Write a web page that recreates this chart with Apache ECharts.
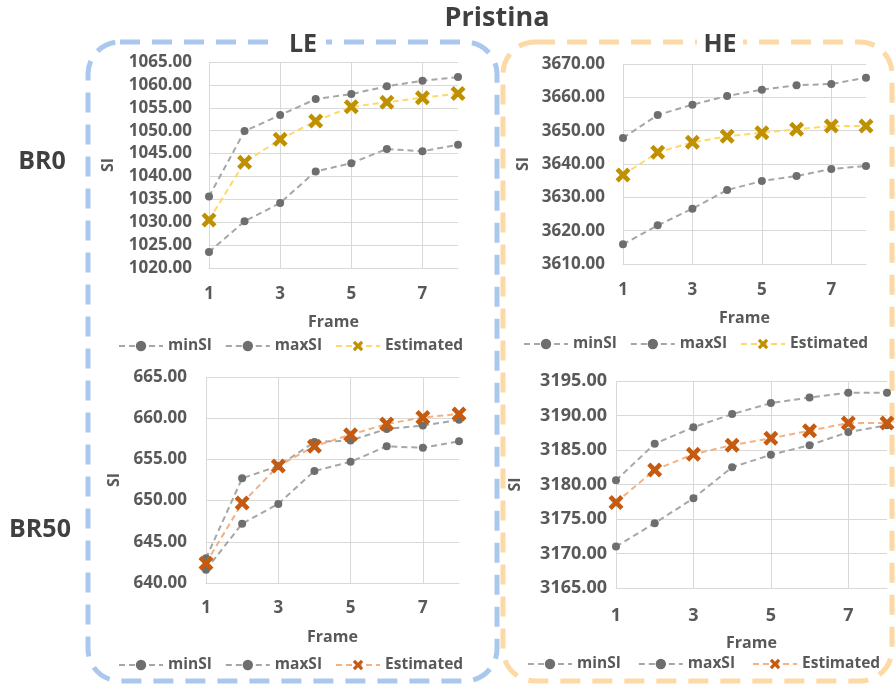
<!DOCTYPE html>
<html>
<head>
<meta charset="utf-8">
<script src="https://cdn.jsdelivr.net/npm/echarts@6/dist/echarts.min.js"></script>
<style>
html,body{margin:0;padding:0;background:#fff;}
#c{width:896px;height:685px;}
</style>
</head>
<body>
<div id="c"></div>
<script>
// ---- data ----
var frames = ['1','2','3','4','5','6','7','8'];

var LE_BR0_min = [1023.5, 1030.2, 1034.2, 1041.1, 1042.9, 1046.0, 1045.5, 1046.9];
var LE_BR0_max = [1035.6, 1049.9, 1053.4, 1056.9, 1058.0, 1059.7, 1060.9, 1061.7];
var LE_BR0_est = [1030.5, 1043.1, 1048.1, 1052.1, 1055.2, 1056.2, 1057.2, 1058.1];

var HE_BR0_min = [3615.9, 3621.6, 3626.6, 3632.2, 3634.9, 3636.4, 3638.5, 3639.4];
var HE_BR0_max = [3647.8, 3654.7, 3657.8, 3660.4, 3662.3, 3663.6, 3664.0, 3665.9];
var HE_BR0_est = [3636.7, 3643.5, 3646.5, 3648.3, 3649.4, 3650.4, 3651.4, 3651.4];

var LE_BR50_min = [641.6, 647.2, 649.6, 653.6, 654.7, 656.6, 656.4, 657.2];
var LE_BR50_max = [643.0, 652.7, 654.2, 657.1, 657.3, 658.7, 659.1, 659.8];
var LE_BR50_est = [642.4, 649.7, 654.2, 656.6, 658.0, 659.3, 660.1, 660.5];

var HE_BR50_min = [3171.0, 3174.4, 3178.0, 3182.5, 3184.3, 3185.7, 3187.6, 3188.6];
var HE_BR50_max = [3180.6, 3185.9, 3188.3, 3190.2, 3191.8, 3192.6, 3193.3, 3193.3];
var HE_BR50_est = [3177.4, 3182.1, 3184.4, 3185.7, 3186.7, 3187.8, 3188.9, 3188.9];

var seriesNames = ['minSI', 'maxSI', 'Estimated'];
var mainTitle = 'Pristina';
var colTitles = ['LE', 'HE'];
var rowTitles = ['BR0', 'BR50'];
var xName = 'Frame';
var yName = 'SI';

// ---- styling ----
var FONT = "'Open Sans', 'Noto Sans', sans-serif";
var LBL = '#595959';
var GRID = '#d9d9d9';
var GRAY_LINE = '#a6a6a6';
var GRAY_DOT = '#6e6e6e';
var X_SYMBOL = 'path://M0,2.6 L2.6,0 L6,3.4 L9.4,0 L12,2.6 L8.6,6 L12,9.4 L9.4,12 L6,8.6 L2.6,12 L0,9.4 L3.4,6 Z';

var panels = [
  {grid:{left:209, top:62, width:249, height:206}, y:[1020,1065,5], fs:17, ym:17, xm:18, ng:93, xg:46,
   data:[LE_BR0_min, LE_BR0_max, LE_BR0_est], estLine:'#ffd966', estMark:'#bf9000', estName:'Estimated',
   legend:{left:118, top:338}, gap:13},
  {grid:{left:623, top:64, width:243, height:200}, y:[3610,3670,10], fs:17, ym:18, xm:18, ng:92, xg:46,
   data:[HE_BR0_min, HE_BR0_max, HE_BR0_est], estLine:'#ffd966', estMark:'#bf9000', estName:'Estimated',
   legend:{left:523, top:336}, gap:13},
  {grid:{left:206, top:377, width:253, height:206}, y:[640,665,5], fs:17, ym:19, xm:17, ng:84, xg:46,
   data:[LE_BR50_min, LE_BR50_max, LE_BR50_est], estLine:'#f4b183', estMark:'#c55a11', estName:'Estimated|BR50',
   legend:{left:118, top:657}, gap:13},
  {grid:{left:616, top:381, width:271, height:207}, y:[3165,3195,5], fs:18, ym:9, xm:19, ng:93, xg:47,
   data:[HE_BR50_min, HE_BR50_max, HE_BR50_est], estLine:'#f4b183', estMark:'#c55a11', estName:'Estimated|BR50',
   legend:{left:527, top:656}, gap:17}
];

var option = {
  animation: false,
  backgroundColor: '#fff',
  textStyle: {fontFamily: FONT},
  grid: [], xAxis: [], yAxis: [], series: [], legend: [], graphic: []
};

panels.forEach(function(p, i){
  option.grid.push(Object.assign({containLabel:false}, p.grid));
  option.xAxis.push({
    type:'category', gridIndex:i, data:frames, boundaryGap:false,
    name:xName, nameLocation:'middle', nameGap:p.xg,
    nameTextStyle:{color:LBL, fontSize:16, fontWeight:700, fontFamily:FONT},
    axisLine:{show:true, lineStyle:{color:GRID, width:1}},
    axisTick:{show:false},
    axisLabel:{interval:1, color:LBL, fontSize:p.fs, fontWeight:700, fontFamily:FONT, margin:p.xm},
    splitLine:{show:true, interval:1, lineStyle:{color:GRID, width:1}}
  });
  option.yAxis.push({
    type:'value', gridIndex:i, min:p.y[0], max:p.y[1], interval:p.y[2],
    name:yName, nameLocation:'middle', nameGap:p.ng,
    nameTextStyle:{color:LBL, fontSize:16, fontWeight:700, fontFamily:FONT},
    axisLine:{show:false}, axisTick:{show:false},
    axisLabel:{color:LBL, fontSize:p.fs, fontWeight:700, fontFamily:FONT, margin:p.ym,
      formatter:function(v){return v.toFixed(2);}},
    splitLine:{show:true, lineStyle:{color:GRID, width:1}}
  });
  for (var k = 0; k < 2; k++) {
    option.series.push({
      type:'line', name:seriesNames[k], xAxisIndex:i, yAxisIndex:i, data:p.data[k],
      symbol:'circle', symbolSize:8, z:2,
      itemStyle:{color:GRAY_DOT},
      lineStyle:{color:GRAY_LINE, width:2, type:[6,4]}
    });
  }
  option.series.push({
    type:'line', name:p.estName, xAxisIndex:i, yAxisIndex:i, data:p.data[2],
    symbol:X_SYMBOL, symbolSize:15, z:3,
    itemStyle:{color:p.estMark},
    lineStyle:{color:p.estLine, width:2, type:[6,4]}
  });
  option.legend.push({
    left:p.legend.left, top:p.legend.top, orient:'horizontal',
    data:[seriesNames[0], seriesNames[1], p.estName],
    itemWidth:44, itemHeight:13, itemGap:p.gap, padding:0,
    selectedMode:false,
    formatter:function(n){return n.split('|')[0];},
    textStyle:{color:LBL, fontSize:15.5, fontWeight:700, fontFamily:FONT, padding:[0,0,0,0]}
  });
});

// Decorative dashed rounded boxes, titles
option.graphic = [
  {type:'rect', z:0, silent:true, shape:{x:88, y:42, width:409, height:639, r:32},
   style:{fill:'none', stroke:'#aac7ee', lineWidth:5, lineDash:[20,12]}},
  {type:'rect', z:0, silent:true, shape:{x:503, y:42, width:389, height:639, r:32},
   style:{fill:'none', stroke:'#fcd9a5', lineWidth:5, lineDash:[20,12]}},
  {type:'rect', z:10, silent:true, shape:{x:280, y:34, width:46, height:18}, style:{fill:'#fff'}},
  {type:'rect', z:10, silent:true, shape:{x:697, y:34, width:46, height:18}, style:{fill:'#fff'}},
  {type:'text', z:11, silent:true, x:497, y:18, style:{text:mainTitle, fill:'#404040', font:"700 27px 'Open Sans'", align:'center', verticalAlign:'middle'}},
  {type:'text', z:11, silent:true, x:303, y:45, style:{text:colTitles[0], fill:'#404040', font:"700 25px 'Open Sans'", align:'center', verticalAlign:'middle'}},
  {type:'text', z:11, silent:true, x:720, y:45, style:{text:colTitles[1], fill:'#404040', font:"700 25px 'Open Sans'", align:'center', verticalAlign:'middle'}},
  {type:'text', z:11, silent:true, x:42, y:162, style:{text:rowTitles[0], fill:'#404040', font:"700 25px 'Open Sans'", align:'center', verticalAlign:'middle'}},
  {type:'text', z:11, silent:true, x:40, y:530, style:{text:rowTitles[1], fill:'#404040', font:"700 25px 'Open Sans'", align:'center', verticalAlign:'middle'}}
];

var chart = echarts.init(document.getElementById('c'), null, {renderer:'canvas'});
chart.setOption(option);
</script>
</body>
</html>
